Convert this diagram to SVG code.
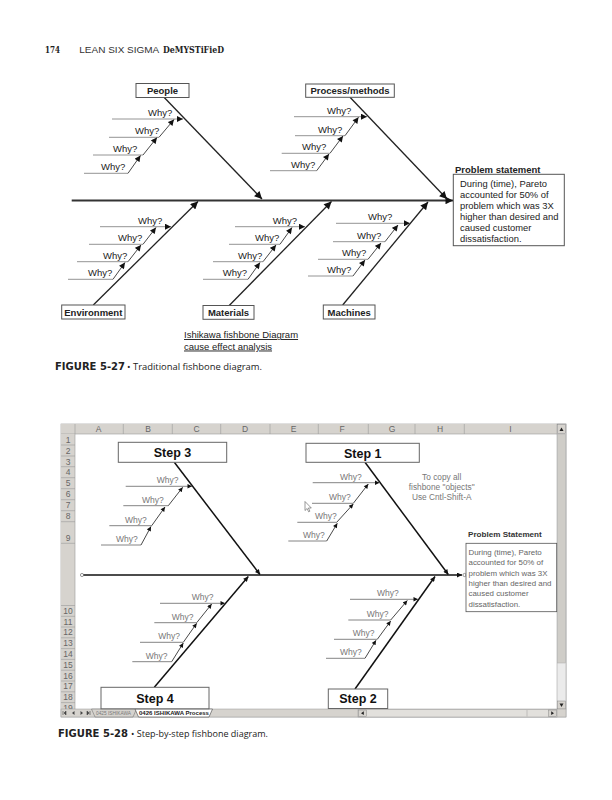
<svg xmlns="http://www.w3.org/2000/svg" width="612" height="800" viewBox="0 0 612 800">
<defs>
<marker id="big" viewBox="0 0 10 10" refX="10" refY="5" markerWidth="10" markerHeight="7.5" markerUnits="userSpaceOnUse" orient="auto"><path d="M0,0 L10,5 L0,10 z" fill="#111"/></marker>
<marker id="sm" viewBox="0 0 10 10" refX="10" refY="5" markerWidth="7.5" markerHeight="6" markerUnits="userSpaceOnUse" orient="auto"><path d="M0,0 L10,5 L0,10 z" fill="#111"/></marker>
<marker id="bsm" viewBox="0 0 10 10" refX="10" refY="5" markerWidth="6" markerHeight="4.5" markerUnits="userSpaceOnUse" orient="auto"><path d="M0,0 L10,5 L0,10 z" fill="#111"/></marker>
<marker id="bbig" viewBox="0 0 10 10" refX="10" refY="5" markerWidth="7" markerHeight="5" markerUnits="userSpaceOnUse" orient="auto"><path d="M0,0 L10,5 L0,10 z" fill="#111"/></marker>
</defs>
<style>
text{font-family:"Liberation Sans",Arial,sans-serif}
.why{font-size:9.5px;fill:#222}
.lbl{font-size:9.5px;font-weight:bold;fill:#222}
.box{fill:#fff;stroke:#555;stroke-width:1}
.spine{stroke:#333;stroke-width:1.8;fill:none}
.bone{stroke:#222;stroke-width:1.3;fill:none}
.wh{stroke:#888;stroke-width:0.9;fill:none}
.wd{stroke:#333;stroke-width:0.9;fill:none}
.bwhy{font-size:8.5px;fill:#777}
.bbone{stroke:#111;stroke-width:1.5;fill:none}
.bwh{stroke:#777;stroke-width:0.9;fill:none}
.bwd{stroke:#333;stroke-width:0.9;fill:none}
.step{font-size:12.5px;font-weight:bold;fill:#111}
.sbox{fill:#fff;stroke:#666;stroke-width:1}
.hdr{fill:#d6d3ce}
.hl{stroke:#9a9a9a;stroke-width:0.6}
.col{font-size:8.5px;fill:#666;text-anchor:middle}
.row{font-size:8.5px;fill:#666;text-anchor:middle}
.ps{font-size:7.9px;fill:#666}
.cap{font-family:"DejaVu Sans Condensed","DejaVu Sans",sans-serif;font-weight:bold;font-size:10px;fill:#222}
.capt{font-family:"Open Sans","Noto Sans",sans-serif;font-size:8.5px;fill:#222}
</style>
<rect width="612" height="800" fill="#fff"/>

<!-- page header -->
<g id="page-header">
<text x="45" y="52.5" font-weight="bold" font-size="10" textLength="15" lengthAdjust="spacingAndGlyphs" fill="#222" style="font-family:'DejaVu Serif',serif">174</text>
<text x="79.3" y="52.5" font-size="8.5" textLength="80" lengthAdjust="spacingAndGlyphs" fill="#333">LEAN SIX SIGMA</text>
<text x="163" y="52.5" font-weight="bold" font-size="8.5" textLength="61" lengthAdjust="spacingAndGlyphs" fill="#222" style="font-family:'DejaVu Serif',serif">DeMYSTiFieD</text>
</g>

<!-- ============ FIGURE 5-27 ============ -->
<g id="connectors-top">
<line class="spine" x1="71.7" y1="200.5" x2="453" y2="200.5" marker-end="url(#big)"/>
<line class="bone" x1="164" y1="97.3" x2="262" y2="199" marker-end="url(#big)"/>
<line class="bone" x1="350" y1="97.3" x2="447" y2="199" marker-end="url(#big)"/>
<line class="bone" x1="93.3" y1="305" x2="198" y2="201.5" marker-end="url(#big)"/>
<line class="bone" x1="229" y1="305.7" x2="331.5" y2="201.5" marker-end="url(#big)"/>
<line class="bone" x1="342.7" y1="305" x2="428" y2="202" marker-end="url(#big)"/>
<!-- people whys -->
<line class="wh" x1="112" y1="119" x2="183" y2="119" marker-end="url(#sm)"/>
<line class="wh" x1="109" y1="137.3" x2="159" y2="137.3"/>
<line class="wd" x1="159" y1="137.3" x2="174" y2="119.5" marker-end="url(#sm)"/>
<line class="wh" x1="93" y1="155" x2="143" y2="155"/>
<line class="wd" x1="143" y1="155" x2="157" y2="137.5" marker-end="url(#sm)"/>
<line class="wh" x1="84" y1="173.3" x2="128" y2="173.3"/>
<line class="wd" x1="128" y1="173.3" x2="140.5" y2="155.5" marker-end="url(#sm)"/>
<!-- process whys -->
<line class="wh" x1="294" y1="116.7" x2="367" y2="116.7" marker-end="url(#sm)"/>
<line class="wh" x1="295" y1="135.7" x2="345" y2="135.7"/>
<line class="wd" x1="345" y1="135.7" x2="358.5" y2="117.3" marker-end="url(#sm)"/>
<line class="wh" x1="281.7" y1="153.3" x2="330" y2="153.3"/>
<line class="wd" x1="330" y1="153.3" x2="343" y2="136" marker-end="url(#sm)"/>
<line class="wh" x1="270" y1="170.7" x2="316.7" y2="170.7"/>
<line class="wd" x1="316.7" y1="170.7" x2="329" y2="154" marker-end="url(#sm)"/>
<!-- environment whys -->
<line class="wh" x1="100" y1="226.7" x2="171" y2="226.7" marker-end="url(#sm)"/>
<line class="wh" x1="89" y1="244.3" x2="143" y2="244.3"/>
<line class="wd" x1="143" y1="244.3" x2="156" y2="227.5" marker-end="url(#sm)"/>
<line class="wh" x1="77" y1="261.7" x2="128" y2="261.7"/>
<line class="wd" x1="128" y1="261.7" x2="141" y2="245" marker-end="url(#sm)"/>
<line class="wh" x1="68" y1="279.3" x2="113" y2="279.3"/>
<line class="wd" x1="113" y1="279.3" x2="125" y2="262.5" marker-end="url(#sm)"/>
<!-- materials whys -->
<line class="wh" x1="235" y1="226.7" x2="305" y2="226.7" marker-end="url(#sm)"/>
<line class="wh" x1="229" y1="244.3" x2="280" y2="244.3"/>
<line class="wd" x1="280" y1="244.3" x2="292" y2="227.5" marker-end="url(#sm)"/>
<line class="wh" x1="213" y1="261.7" x2="263" y2="261.7"/>
<line class="wd" x1="263" y1="261.7" x2="276" y2="245" marker-end="url(#sm)"/>
<line class="wh" x1="203" y1="279.3" x2="248" y2="279.3"/>
<line class="wd" x1="248" y1="279.3" x2="260" y2="262.5" marker-end="url(#sm)"/>
<!-- machines whys -->
<line class="wh" x1="336" y1="223.3" x2="410" y2="223.3" marker-end="url(#sm)"/>
<line class="wh" x1="333" y1="241.7" x2="385" y2="241.7"/>
<line class="wd" x1="385" y1="241.7" x2="398" y2="225" marker-end="url(#sm)"/>
<line class="wh" x1="318" y1="259.3" x2="368" y2="259.3"/>
<line class="wd" x1="368" y1="259.3" x2="381" y2="243" marker-end="url(#sm)"/>
<line class="wh" x1="308" y1="276" x2="353" y2="276"/>
<line class="wd" x1="353" y1="276" x2="365" y2="260" marker-end="url(#sm)"/>
</g>

<g id="people">
<rect class="box" x="136" y="83.5" width="53" height="14"/>
<text class="lbl" x="162.5" y="94" text-anchor="middle">People</text>
<text class="why" x="148" y="116">Why?</text>
<text class="why" x="135" y="134.3">Why?</text>
<text class="why" x="113" y="152">Why?</text>
<text class="why" x="101" y="170.3">Why?</text>
</g>
<g id="process-methods">
<rect class="box" x="305.7" y="84" width="88.6" height="13.3"/>
<text class="lbl" x="350" y="94.2" text-anchor="middle">Process/methods</text>
<text class="why" x="327" y="113.7">Why?</text>
<text class="why" x="318" y="132.7">Why?</text>
<text class="why" x="302" y="150.3">Why?</text>
<text class="why" x="291" y="167.7">Why?</text>
</g>
<g id="environment">
<rect class="box" x="61.7" y="305" width="63.3" height="14"/>
<text class="lbl" x="93.3" y="315.5" text-anchor="middle">Environment</text>
<text class="why" x="138" y="223.7">Why?</text>
<text class="why" x="118" y="241.3">Why?</text>
<text class="why" x="103" y="258.7">Why?</text>
<text class="why" x="88" y="276.3">Why?</text>
</g>
<g id="materials">
<rect class="box" x="203" y="305.5" width="51" height="13.8"/>
<text class="lbl" x="228.5" y="315.8" text-anchor="middle">Materials</text>
<text class="why" x="272.7" y="223.7">Why?</text>
<text class="why" x="255" y="241.3">Why?</text>
<text class="why" x="238" y="258.7">Why?</text>
<text class="why" x="222.7" y="276.3">Why?</text>
</g>
<g id="machines">
<rect class="box" x="323.3" y="305" width="51.7" height="14"/>
<text class="lbl" x="349.2" y="315.5" text-anchor="middle">Machines</text>
<text class="why" x="368" y="220.3">Why?</text>
<text class="why" x="357" y="238.7">Why?</text>
<text class="why" x="342" y="256.3">Why?</text>
<text class="why" x="327" y="273">Why?</text>
</g>
<g id="problem-statement">
<text class="lbl" x="455" y="172.5">Problem statement</text>
<rect class="box" x="453.3" y="174.3" width="111" height="71.4"/>
<text x="460" y="187" font-size="9.4" fill="#222">During (time), Pareto</text>
<text x="460" y="198" font-size="9.4" fill="#222">accounted for 50% of</text>
<text x="460" y="209" font-size="9.4" fill="#222">problem which was 3X</text>
<text x="460" y="220" font-size="9.4" fill="#222">higher than desired and</text>
<text x="460" y="231" font-size="9.4" fill="#222">caused customer</text>
<text x="460" y="242" font-size="9.4" fill="#222">dissatisfaction.</text>
</g>
<g id="top-caption">
<text x="184" y="338" font-size="9.5" fill="#222" text-decoration="underline">Ishikawa fishbone Diagram</text>
<text x="184" y="349.5" font-size="9.5" fill="#222" text-decoration="underline">cause effect analysis</text>
</g>
<g id="figure-5-27">
<text class="cap" x="55" y="370" textLength="70" lengthAdjust="spacingAndGlyphs">FIGURE 5-27</text>
<text class="capt" x="127" y="370" textLength="135" lengthAdjust="spacingAndGlyphs">• Traditional fishbone diagram.</text>
</g>

<!-- ============ FIGURE 5-28 (spreadsheet) ============ -->
<g id="spreadsheet">
<rect x="61" y="424" width="505" height="293" fill="#fff" stroke="#999" stroke-width="0.6"/>
<!-- column header -->
<rect class="hdr" x="61" y="424" width="496" height="10"/>
<line class="hl" x1="61" y1="434" x2="557" y2="434"/>
<line class="hl" x1="75" y1="424" x2="75" y2="434"/>
<line class="hl" x1="123.3" y1="424" x2="123.3" y2="434"/>
<line class="hl" x1="172.3" y1="424" x2="172.3" y2="434"/>
<line class="hl" x1="220.7" y1="424" x2="220.7" y2="434"/>
<line class="hl" x1="270" y1="424" x2="270" y2="434"/>
<line class="hl" x1="318.3" y1="424" x2="318.3" y2="434"/>
<line class="hl" x1="368.3" y1="424" x2="368.3" y2="434"/>
<line class="hl" x1="415" y1="424" x2="415" y2="434"/>
<line class="hl" x1="464.3" y1="424" x2="464.3" y2="434"/>
<text class="col" x="98.5" y="432.3">A</text>
<text class="col" x="148" y="432.3">B</text>
<text class="col" x="196.5" y="432.3">C</text>
<text class="col" x="245" y="432.3">D</text>
<text class="col" x="293.5" y="432.3">E</text>
<text class="col" x="342" y="432.3">F</text>
<text class="col" x="392" y="432.3">G</text>
<text class="col" x="440" y="432.3">H</text>
<text class="col" x="510.5" y="432.3">I</text>
<!-- row header -->
<rect class="hdr" x="61" y="434" width="14" height="275"/>
<line class="hl" x1="75" y1="434" x2="75" y2="709"/>
<g class="hl">
<line x1="61" y1="445" x2="75" y2="445"/><line x1="61" y1="456" x2="75" y2="456"/>
<line x1="61" y1="466.7" x2="75" y2="466.7"/><line x1="61" y1="477.7" x2="75" y2="477.7"/>
<line x1="61" y1="488.7" x2="75" y2="488.7"/><line x1="61" y1="499.7" x2="75" y2="499.7"/>
<line x1="61" y1="510.7" x2="75" y2="510.7"/><line x1="61" y1="521.7" x2="75" y2="521.7"/>
<line x1="61" y1="543.3" x2="75" y2="543.3"/><line x1="61" y1="605.5" x2="75" y2="605.5"/>
<line x1="61" y1="616.3" x2="75" y2="616.3"/><line x1="61" y1="627" x2="75" y2="627"/>
<line x1="61" y1="637.8" x2="75" y2="637.8"/><line x1="61" y1="648.6" x2="75" y2="648.6"/>
<line x1="61" y1="659.4" x2="75" y2="659.4"/><line x1="61" y1="670.2" x2="75" y2="670.2"/>
<line x1="61" y1="681" x2="75" y2="681"/><line x1="61" y1="691.8" x2="75" y2="691.8"/>
<line x1="61" y1="702.6" x2="75" y2="702.6"/>
</g>
<text class="row" x="68" y="443">1</text>
<text class="row" x="68" y="453.7">2</text>
<text class="row" x="68" y="464.6">3</text>
<text class="row" x="68" y="475.3">4</text>
<text class="row" x="68" y="486.3">5</text>
<text class="row" x="68" y="497.3">6</text>
<text class="row" x="68" y="508.3">7</text>
<text class="row" x="68" y="519.3">8</text>
<text class="row" x="68" y="541.3">9</text>
<text class="row" x="68" y="614">10</text>
<text class="row" x="68" y="624.7">11</text>
<text class="row" x="68" y="635.4">12</text>
<text class="row" x="68" y="646.2">13</text>
<text class="row" x="68" y="657">14</text>
<text class="row" x="68" y="667.8">15</text>
<text class="row" x="68" y="678.6">16</text>
<text class="row" x="68" y="689.4">17</text>
<text class="row" x="68" y="700.2">18</text>
<text class="row" x="68" y="711">19</text>
<!-- vertical scrollbar -->
<rect x="557" y="424" width="9" height="285" fill="#ebebeb" stroke="#999" stroke-width="0.5"/>
<rect x="557.5" y="424.5" width="8" height="9" fill="#d6d3ce" stroke="#888" stroke-width="0.5"/>
<path d="M559.5,431 L561.5,427.5 L563.5,431 z" fill="#222"/>
<rect x="557.5" y="434" width="8" height="229" fill="#cfcdc8" stroke="#aaa" stroke-width="0.5"/>
<rect x="557.5" y="701" width="8" height="8" fill="#d6d3ce" stroke="#888" stroke-width="0.5"/>
<path d="M559.5,703.5 L561.5,707 L563.5,703.5 z" fill="#222"/>
<!-- bottom tab bar -->
<rect x="61" y="709" width="505" height="8" fill="#d6d3ce" stroke="#999" stroke-width="0.5"/>
<path d="M63,711 v4 M64,713 L66,711 V715 z" stroke="#444" stroke-width="0.6" fill="#444"/>
<path d="M72,713 L74.5,711 V715 z" fill="#444"/>
<path d="M80.5,711 V715 L83,713 z" fill="#444"/>
<path d="M87,711 V715 L89.2,713 z M90,711 v4" stroke="#444" stroke-width="0.6" fill="#444"/>
<polygon points="91.5,709 95,717 133,717 136.5,709" fill="#d6d3ce" stroke="#666" stroke-width="0.5"/>
<text x="96" y="715.3" font-size="5.5" fill="#777" textLength="35" lengthAdjust="spacingAndGlyphs">0425 ISHIKAWA</text>
<polygon points="135,709 138.5,717 209,717 212.5,709" fill="#fff" stroke="#444" stroke-width="0.6"/>
<text x="139" y="715.3" font-size="5.5" font-weight="bold" fill="#222" textLength="70" lengthAdjust="spacingAndGlyphs">0426 ISHIKAWA Process</text>
<rect x="358" y="709.5" width="199" height="7.5" fill="#e2e0dc" stroke="#999" stroke-width="0.5"/>
<rect x="358.5" y="710" width="8" height="6.5" fill="#d6d3ce" stroke="#888" stroke-width="0.5"/>
<path d="M363.8,711.3 L361,713.2 L363.8,715.1 z" fill="#222"/>
<line x1="527" y1="710" x2="527" y2="716.5" stroke="#999" stroke-width="0.5"/>
<rect x="548.5" y="710" width="8" height="6.5" fill="#d6d3ce" stroke="#888" stroke-width="0.5"/>
<path d="M551.2,711.3 L554,713.2 L551.2,715.1 z" fill="#222"/>
</g>

<g id="connectors-bottom">
<line class="bbone" x1="82" y1="575" x2="462" y2="575" marker-end="url(#bbig)"/>
<circle cx="82" cy="575" r="1.6" fill="#fff" stroke="#555" stroke-width="0.6"/>
<circle cx="464.5" cy="575" r="1.6" fill="#fff" stroke="#555" stroke-width="0.6"/>
<line class="bbone" x1="174.3" y1="462.3" x2="260" y2="574.5" marker-end="url(#bbig)"/>
<line class="bbone" x1="365" y1="462.3" x2="448.3" y2="574.5" marker-end="url(#bbig)"/>
<line class="bbone" x1="154.3" y1="687.3" x2="248.3" y2="576.5" marker-end="url(#bbig)"/>
<line class="bbone" x1="355" y1="689" x2="435" y2="576.5" marker-end="url(#bbig)"/>
<!-- step 3 whys -->
<line class="bwh" x1="125.7" y1="486.3" x2="192" y2="486.3" marker-end="url(#bsm)"/>
<line class="bwh" x1="123.3" y1="505.7" x2="168.3" y2="505.7"/>
<line class="bwd" x1="168.3" y1="505.7" x2="182.7" y2="487.3" marker-end="url(#bsm)"/>
<line class="bwh" x1="109.3" y1="525.7" x2="151.7" y2="525.7"/>
<line class="bwd" x1="151.7" y1="525.7" x2="165" y2="507" marker-end="url(#bsm)"/>
<line class="bwh" x1="101" y1="545" x2="141" y2="545"/>
<line class="bwd" x1="141" y1="545" x2="151" y2="526.5" marker-end="url(#bsm)"/>
<!-- step 1 whys -->
<line class="bwh" x1="312.7" y1="482.7" x2="379.5" y2="482.7" marker-end="url(#bsm)"/>
<line class="bwh" x1="312" y1="503.3" x2="353.3" y2="503.3"/>
<line class="bwd" x1="353.3" y1="503.3" x2="368.3" y2="484" marker-end="url(#bsm)"/>
<line class="bwh" x1="297.3" y1="522.3" x2="336.7" y2="522.3"/>
<line class="bwd" x1="336.7" y1="522.3" x2="353.3" y2="504" marker-end="url(#bsm)"/>
<line class="bwh" x1="288.3" y1="541" x2="326.7" y2="541"/>
<line class="bwd" x1="326.7" y1="541" x2="337.3" y2="523.3" marker-end="url(#bsm)"/>
<!-- step 2 whys -->
<line class="bwh" x1="350" y1="599.3" x2="418" y2="599.3" marker-end="url(#bsm)"/>
<line class="bwh" x1="348.3" y1="620" x2="390.7" y2="620"/>
<line class="bwd" x1="390.7" y1="620" x2="407.3" y2="600.5" marker-end="url(#bsm)"/>
<line class="bwh" x1="334" y1="639.3" x2="377.3" y2="639.3"/>
<line class="bwd" x1="377.3" y1="639.3" x2="390.7" y2="621" marker-end="url(#bsm)"/>
<line class="bwh" x1="326" y1="658.3" x2="365" y2="658.3"/>
<line class="bwd" x1="365" y1="658.3" x2="376" y2="640.3" marker-end="url(#bsm)"/>
<!-- step 4 whys -->
<line class="bwh" x1="160" y1="603.3" x2="225" y2="603.3" marker-end="url(#bsm)"/>
<line class="bwh" x1="154.3" y1="622.7" x2="196.7" y2="622.7"/>
<line class="bwd" x1="196.7" y1="622.7" x2="211.7" y2="604" marker-end="url(#bsm)"/>
<line class="bwh" x1="140" y1="642.3" x2="183.3" y2="642.3"/>
<line class="bwd" x1="183.3" y1="642.3" x2="196.7" y2="623.3" marker-end="url(#bsm)"/>
<line class="bwh" x1="132.3" y1="661.7" x2="171.7" y2="661.7"/>
<line class="bwd" x1="171.7" y1="661.7" x2="183.3" y2="643" marker-end="url(#bsm)"/>
</g>

<g id="step-3">
<rect class="sbox" x="118.3" y="442.3" width="108.4" height="20"/>
<text class="step" x="172.5" y="457" text-anchor="middle">Step 3</text>
<text class="bwhy" x="156.7" y="483">Why?</text>
<text class="bwhy" x="142" y="502.5">Why?</text>
<text class="bwhy" x="125" y="522.5">Why?</text>
<text class="bwhy" x="116" y="541.8">Why?</text>
</g>
<g id="step-1">
<rect class="sbox" x="306" y="443.3" width="113.3" height="19"/>
<text class="step" x="362.7" y="457.5" text-anchor="middle">Step 1</text>
<text class="bwhy" x="340" y="479.5">Why?</text>
<text class="bwhy" x="329" y="500">Why?</text>
<text class="bwhy" x="315" y="519">Why?</text>
<text class="bwhy" x="303" y="538">Why?</text>
</g>
<g id="step-2">
<rect class="sbox" x="328.3" y="689" width="59.4" height="19.5"/>
<text class="step" x="358" y="703" text-anchor="middle">Step 2</text>
<text class="bwhy" x="377" y="596">Why?</text>
<text class="bwhy" x="366.7" y="616.7">Why?</text>
<text class="bwhy" x="352.7" y="636">Why?</text>
<text class="bwhy" x="340" y="655">Why?</text>
</g>
<g id="step-4">
<rect class="sbox" x="101" y="687.3" width="108" height="21.5"/>
<text class="step" x="155" y="702.5" text-anchor="middle">Step 4</text>
<text class="bwhy" x="191.7" y="600">Why?</text>
<text class="bwhy" x="171.7" y="619.5">Why?</text>
<text class="bwhy" x="158.3" y="639">Why?</text>
<text class="bwhy" x="145.7" y="658.5">Why?</text>
</g>
<g id="copy-note">
<text x="441.7" y="479.5" font-size="8.3" fill="#777" text-anchor="middle">To copy all</text>
<text x="441.7" y="489.5" font-size="8.3" fill="#777" text-anchor="middle">fishbone "objects"</text>
<text x="441.7" y="499.5" font-size="8.3" fill="#777" text-anchor="middle">Use Cntl-Shift-A</text>
</g>
<g id="problem-statement-2">
<text x="468" y="537" font-size="8.1" font-weight="bold" fill="#333">Problem Statement</text>
<rect x="466" y="543.3" width="90.7" height="68.4" fill="#fff" stroke="#555" stroke-width="0.8"/>
<text class="ps" x="468.5" y="554.7">During (time), Pareto</text>
<text class="ps" x="468.5" y="565.1">accounted for 50% of</text>
<text class="ps" x="468.5" y="575.5">problem which was 3X</text>
<text class="ps" x="468.5" y="585.9">higher than desired and</text>
<text class="ps" x="468.5" y="596.3">caused customer</text>
<text class="ps" x="468.5" y="606.7">dissatisfaction.</text>
</g>
<g id="cursor">
<polygon points="305,501.5 305,510.5 307.1,508.5 308.6,511.8 309.9,511.2 308.4,508 311.3,508" fill="#fff" stroke="#555" stroke-width="0.6"/>
</g>
<g id="figure-5-28">
<text class="cap" x="58" y="736.5" textLength="70" lengthAdjust="spacingAndGlyphs">FIGURE 5-28</text>
<text class="capt" x="131" y="736.5" textLength="137" lengthAdjust="spacingAndGlyphs">• Step-by-step fishbone diagram.</text>
</g>
</svg>
